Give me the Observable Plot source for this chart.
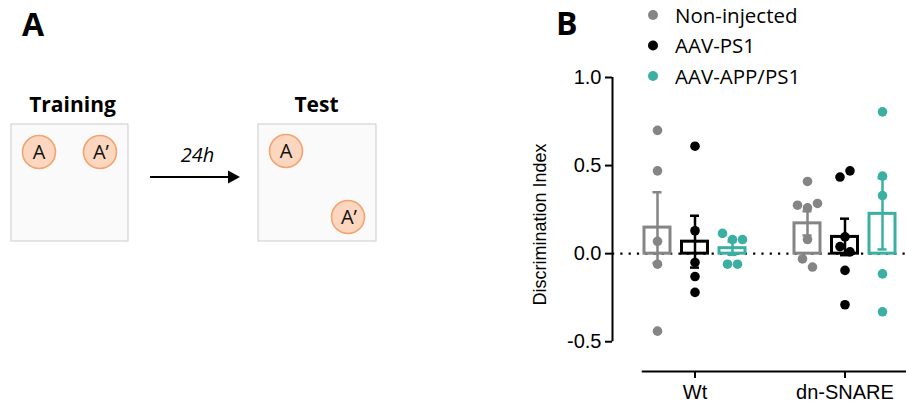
<!DOCTYPE html>
<html>
<head>
<meta charset="utf-8">
<script src="https://cdn.jsdelivr.net/npm/d3@7"></script>
<script src="https://cdn.jsdelivr.net/npm/@observablehq/plot@0.6"></script>
<style>
  html, body { margin: 0; padding: 0; background: #fff; }
  #page { position: relative; width: 906px; height: 405px; overflow: hidden; font-family: "Open Sans", sans-serif; }
  #chart { position: absolute; left: 510px; top: 0; width: 396px; height: 405px; font-family: "Liberation Sans", Arial, sans-serif; }
  #chart svg text { font-family: "Liberation Sans", Arial, sans-serif; }
  #overlay { position: absolute; left: 0; top: 0; pointer-events: none; }
</style>
</head>
<body>
<div id="page">
  <div id="chart"></div>
  <svg id="overlay" width="906" height="405" xmlns="http://www.w3.org/2000/svg">
    <g font-family="Open Sans, sans-serif" fill="#000">
      <!-- Panel A : schematic of the object-location protocol -->
      <text x="22" y="36" font-size="32" font-weight="700">A</text>
      <text x="72.5" y="112" font-size="21" font-weight="700" text-anchor="middle">Training</text>
      <text x="316.5" y="112" font-size="21" font-weight="700" text-anchor="middle">Test</text>
      <rect x="11" y="124" width="117" height="117" fill="#fafafa" stroke="#cccccc" stroke-width="1"/>
      <rect x="258" y="124" width="118" height="117" fill="#fafafa" stroke="#cccccc" stroke-width="1"/>
      <g fill="#fcd6be" stroke="#f2a472" stroke-width="1.6">
        <circle cx="39" cy="152" r="16.5"/>
        <circle cx="100" cy="152" r="16.5"/>
        <circle cx="286" cy="151" r="16.5"/>
        <circle cx="348" cy="217" r="16.5"/>
      </g>
      <g font-size="20" text-anchor="middle" fill="#111">
        <text x="39" y="159">A</text>
        <text x="101" y="159">A’</text>
        <text x="286" y="158">A</text>
        <text x="349" y="224">A’</text>
      </g>
      <line x1="150" y1="177" x2="230" y2="177" stroke="#000" stroke-width="2"/>
      <polygon points="228,170.5 240,177 228,183.5" fill="#000"/>
      <text x="197.5" y="162" font-size="20" font-style="italic" text-anchor="middle">24h</text>
      <!-- Panel B label -->
      <text x="556" y="35" font-size="32" font-weight="700">B</text>
    </g>
    <g id="legend"></g>
  </svg>
</div>
<script>
// ---------- data ----------
const groups = ["Wt", "dn-SNARE"];
const conditions = ["Non-injected", "AAV-PS1", "AAV-APP/PS1"];
const colors = ["#858585", "#000000", "#3bafa2"];

const wtNonInjected = [0.70, 0.47, 0.07, -0.06, -0.44];
const wtAAVPS1 = [0.61, 0.13, -0.05, -0.13, -0.22];
const wtAAVAPPPS1 = [0.115, 0.08, 0.08, -0.06, -0.06];
const dnNonInjected = [0.41, 0.275, 0.26, 0.285, 0.08, -0.03, -0.076];
const dnAAVPS1 = [0.435, 0.47, 0.095, 0.04, 0.01, -0.095, -0.29];
const dnAAVAPPPS1 = [0.805, 0.44, 0.33, -0.115, -0.33];

const yTicks = [-0.5, 0.0, 0.5, 1.0];
const yTitle = "Discrimination Index";

// ---------- layout ----------
const W = 396, H = 405;
const mLeft = 102, mRight = 0, mTop = 77, mBottom = 34;
const xLeft = -1.2, xRight = 6.64;          // x-domain (slot units)
const yBottom = -0.669, yTop = 1.0;         // y-domain
const stepPx = (W - mLeft - mRight) / (xRight - xLeft);
const barHalf = 13 / stepPx;
const capHalf = 4.5 / stepPx;
const dotR = 4.8;
const dotGapPx = 10;
const rowTol = 0.05;
const FONT = "Liberation Sans, Arial, sans-serif";

// ---------- derived tables ----------
const series = [[wtNonInjected, wtAAVPS1, wtAAVAPPPS1], [dnNonInjected, dnAAVPS1, dnAAVAPPPS1]];
const slot = conditions.length + 1;
const points = [], stats = [];
groups.forEach((g, gi) => conditions.forEach((c, ci) => {
  const vals = series[gi][ci];
  const pos = gi * slot + ci;
  const mean = d3.mean(vals);
  const sem = d3.deviation(vals) / Math.sqrt(vals.length);
  stats.push({group: g, condition: c, pos, mean, sem, color: colors[ci]});
  // simple scatter layout: values at about the same height are spread side by side
  const order = vals.map((v, i) => ({v, i})).sort((a, b) => b.v - a.v);
  const rows = [];
  for (const o of order) {
    const row = rows[rows.length - 1];
    if (row && row[0].v - o.v < rowTol) row.push(o); else rows.push([o]);
  }
  for (const row of rows) {
    row.sort((a, b) => a.i - b.i);
    row.forEach((o, k) => points.push({
      group: g, condition: c, value: o.v, color: colors[ci],
      x: pos + (k - (row.length - 1) / 2) * dotGapPx / stepPx
    }));
  }
}));
const groupCenters = groups.map((g, gi) => gi * slot + (conditions.length - 1) / 2);
const groupLabel = new Map(groupCenters.map((p, i) => [p, groups[i]]));

const chart = Plot.plot({
  width: W, height: H,
  marginLeft: mLeft, marginRight: mRight, marginTop: mTop, marginBottom: mBottom,
  x: {domain: [xLeft, xRight], axis: null},
  y: {domain: [yBottom, yTop], axis: null},
  style: {fontFamily: FONT, fontSize: "20px", color: "#000", background: "transparent", overflow: "visible"},
  marks: [
    Plot.ruleY([0], {stroke: "#000", strokeWidth: 2.4, strokeDasharray: "2.2,6.1"}),
    Plot.rectY(stats, {x1: d => d.pos - barHalf, x2: d => d.pos + barHalf, y1: 0, y2: "mean", fill: "none", stroke: "color", strokeWidth: 3}),
    Plot.ruleX(stats, {x: "pos", y1: d => d.mean - d.sem, y2: d => d.mean + d.sem, stroke: "color", strokeWidth: 2.5}),
    Plot.ruleY(stats, {y: d => d.mean + d.sem, x1: d => d.pos - capHalf, x2: d => d.pos + capHalf, stroke: "color", strokeWidth: 2.5}),
    Plot.ruleY(stats, {y: d => d.mean - d.sem, x1: d => d.pos - capHalf, x2: d => d.pos + capHalf, stroke: "color", strokeWidth: 2.5}),
    Plot.dot(points, {x: "x", y: "value", r: dotR, fill: "color", stroke: null}),
    // axes
    Plot.ruleX([xLeft], {y1: d3.min(yTicks), y2: d3.max(yTicks), stroke: "#000", strokeWidth: 2}),
    Plot.axisY({ticks: yTicks, tickFormat: d => d.toFixed(1), tickSize: 7, tickPadding: 4, strokeWidth: 2, fontSize: 20, fontFamily: FONT, label: null}),
    Plot.text([yTitle], {frameAnchor: "left", textAnchor: "middle", rotate: -90, dx: -72, fontSize: 18, fontFamily: FONT, fill: "#000"}),
    Plot.ruleY([yBottom], {x1: -barHalf - 0.06, x2: xRight, stroke: "#000", strokeWidth: 2}),
    Plot.axisX({ticks: groupCenters, tickFormat: d => groupLabel.get(d), tickSize: 7, tickPadding: 6, strokeWidth: 2, fontSize: 20, fontFamily: FONT, label: null})
  ]
});
document.getElementById("chart").appendChild(chart);

// legend built from the categories and colours
const leg = d3.select("#legend")
  .attr("font-family", "Open Sans, sans-serif").attr("font-size", 20.5);
conditions.forEach((c, i) => {
  leg.append("circle").attr("cx", 653).attr("cy", 15 + i * 30.5).attr("r", 5).attr("fill", colors[i]);
  leg.append("text").attr("x", 675).attr("y", 22.5 + i * 30.5).attr("fill", "#000").text(c);
});
</script>
</body>
</html>
